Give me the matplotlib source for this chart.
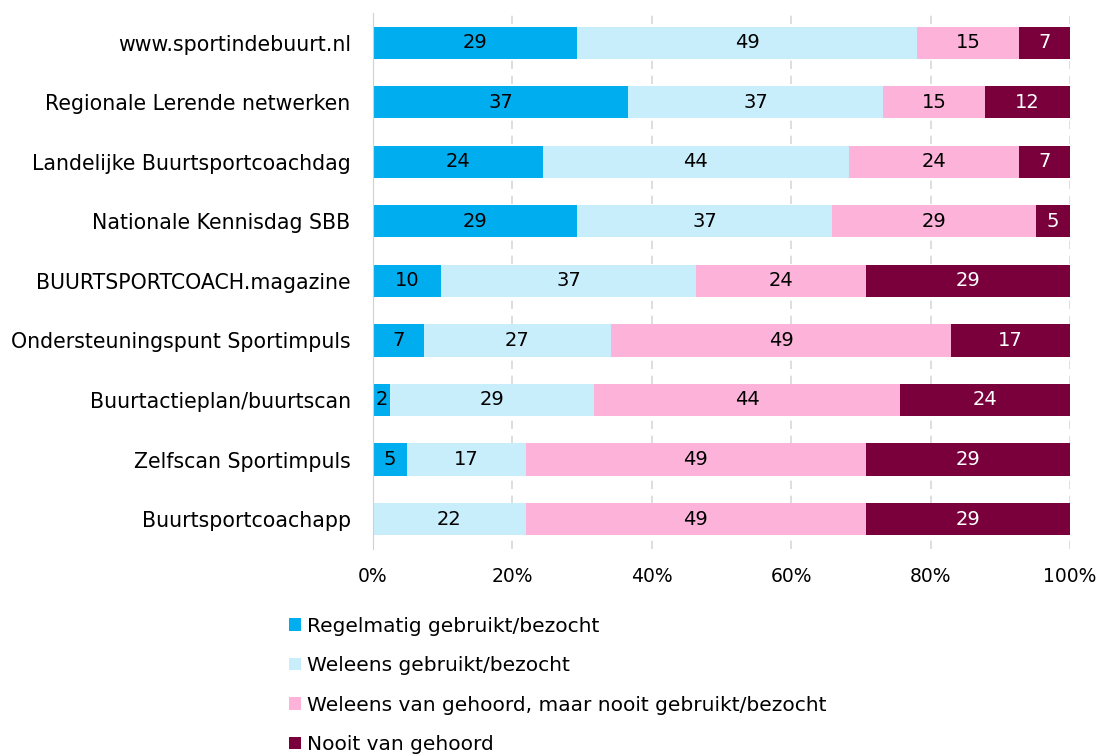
import matplotlib.pyplot as plt
import numpy as np

# aantal respondenten per antwoord (n = 41 per onderdeel)
categories = ['www.sportindebuurt.nl', 'Regionale Lerende netwerken',
              'Landelijke Buurtsportcoachdag', 'Nationale Kennisdag SBB',
              'BUURTSPORTCOACH.magazine', 'Ondersteuningspunt Sportimpuls',
              'Buurtactieplan/buurtscan', 'Zelfscan Sportimpuls', 'Buurtsportcoachapp']
regelmatig = [12, 15, 10, 12, 4, 3, 1, 2, 0]
weleens = [20, 15, 18, 15, 15, 11, 12, 7, 9]
gehoord = [6, 6, 10, 12, 10, 20, 18, 20, 20]
nooit = [3, 5, 3, 2, 12, 7, 10, 12, 12]

series = [regelmatig, weleens, gehoord, nooit]
names = ['Regelmatig gebruikt/bezocht', 'Weleens gebruikt/bezocht',
         'Weleens van gehoord, maar nooit gebruikt/bezocht', 'Nooit van gehoord']
colors = ['#00AEEF', '#C9EEFB', '#FDB3D9', '#7A003C']
text_colors = ['black', 'black', 'black', 'white']

plt.rcParams['font.family'] = ['DejaVu Sans']

fig = plt.figure(figsize=(11, 7.54), dpi=100)
ax = fig.add_axes([0.339, 0.272, 0.6337, 0.711])

data = np.array(series, dtype=float)
totals = data.sum(axis=0)
pct = data / totals * 100
y = np.arange(len(categories))
left = np.zeros(len(categories))
handles = []
for i in range(len(series)):
    h = ax.barh(y, pct[i], left=left, height=0.54, color=colors[i], label=names[i])
    handles.append(h)
    for j in range(len(categories)):
        if series[i][j] > 0:
            ax.text(left[j] + pct[i][j] / 2, y[j], '%d' % round(pct[i][j]), ha='center', va='center',
                    fontsize=14, color=text_colors[i])
    left += pct[i]

ax.set_ylim(len(categories) - 0.5, -0.5)
ax.set_xlim(0, 100)
ax.set_yticks(y)
ax.set_yticklabels(categories, fontsize=14.8)
ax.set_xticks([0, 20, 40, 60, 80, 100])
ax.set_xticklabels(['0%', '20%', '40%', '60%', '80%', '100%'], fontsize=13.5)
ax.tick_params(axis='both', length=0)
ax.tick_params(axis='x', pad=13)
ax.tick_params(axis='y', pad=16)
for s in ['top', 'right', 'bottom']:
    ax.spines[s].set_visible(False)
ax.spines['left'].set_color('#D0D0D0')
ax.xaxis.grid(True, linestyle=(0, (5, 4)), color='#D8D8D8', linewidth=1.2)
ax.set_axisbelow(True)

fig.legend(handles=handles, loc='upper left', bbox_to_anchor=(0.255, 0.193), frameon=False,
           fontsize=14.5, handlelength=0.6, handleheight=0.6, handletextpad=0.3,
           labelspacing=1.02, borderaxespad=0)

fig.savefig('out.png', dpi=100)
